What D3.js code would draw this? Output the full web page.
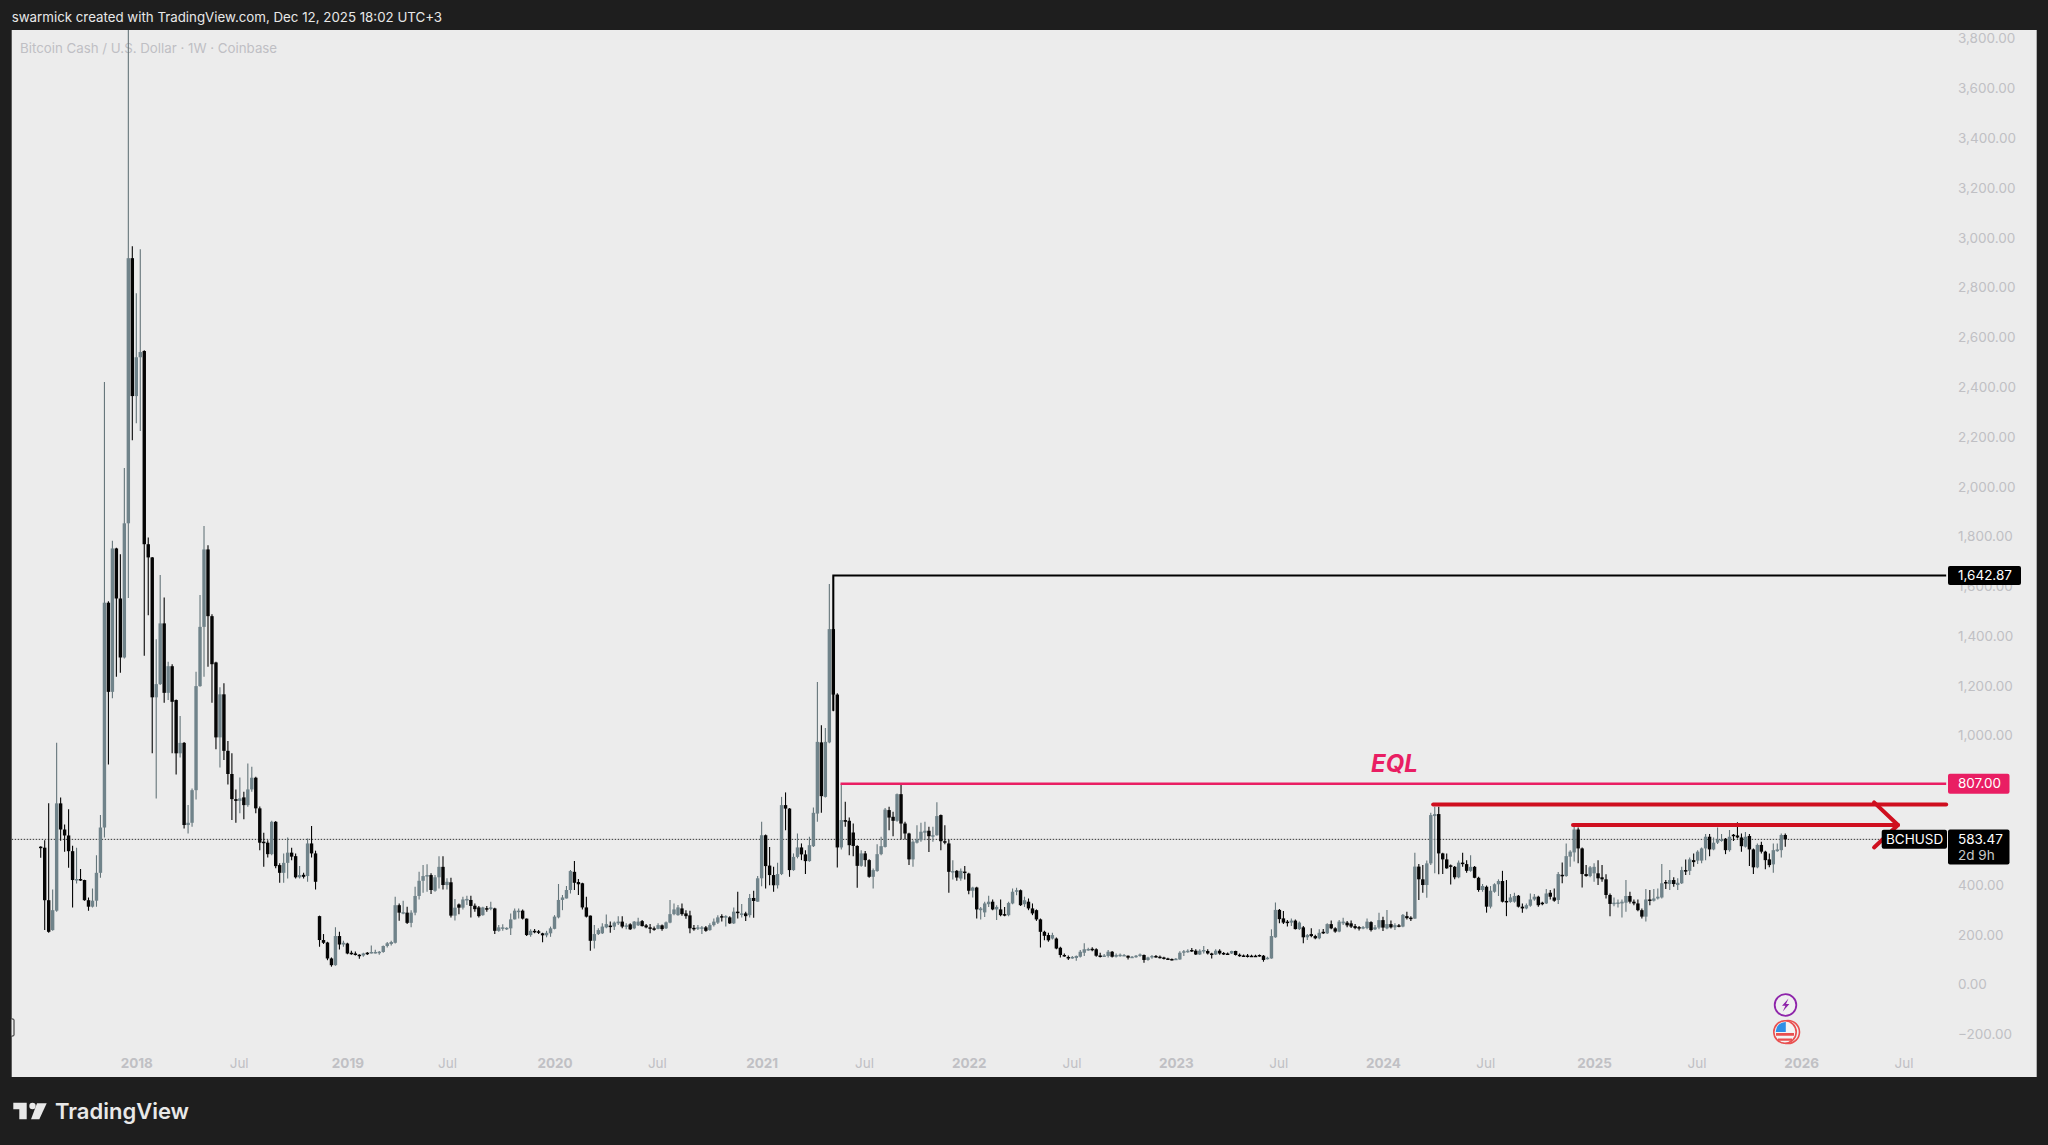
<!DOCTYPE html>
<html><head><meta charset="utf-8">
<script src="https://cdn.jsdelivr.net/npm/d3@7"></script>
<style>html,body{margin:0;padding:0;background:#1e1e1e;overflow:hidden}svg{display:block}text{font-family:Inter,Roboto,sans-serif}</style>
</head><body>
<svg id="c" width="2048" height="1145"></svg>
<script>
// weekly candles: [open, high, low, close]
const candles2017=[[554,556,510,551],[550,580,219,339],[339,728,208,212],[219,382,216,299],[297,971,293,728],[728,752,578,623],[623,643,534,599],[599,704,469,536],[536,558,310,420],[420,550,406,424],[424,464,416,420],[420,421,337,339],[339,350,297,313],[313,386,310,337],[337,520,313,449],[449,681,429,631],[631,2421,591,1534],[1534,1540,884,1176],[1176,1783,1150,1752],[1752,1755,1237,1551],[1551,1729,1253,1314],[1314,2075,1310,1853],[1853,4000,1553,2918],[2918,2966,2187,2364]];
const candles2018=[[2364,2777,2255,2520],[2520,2954,2224,2541],[2545,2548,1321,1769],[1769,1796,1484,1716],[1716,1718,929,1154],[1154,1387,748,1207],[1207,1645,1203,1451],[1451,1555,1132,1172],[1172,1297,1143,1279],[1279,1287,929,1136],[1143,1145,844,929],[929,1079,912,971],[971,975,627,641],[641,721,607,650],[650,788,634,781],[781,1257,744,1199],[1199,1565,1196,1437],[1437,1842,1237,1748],[1748,1765,1277,1480],[1480,1488,1132,1287],[1294,1297,945,993],[993,1194,872,1166],[1166,1210,902,939],[939,979,804,846],[846,929,661,745],[745,784,650,738],[738,832,688,748],[752,775,664,721],[721,888,714,784],[784,875,775,831],[831,835,688,708],[708,715,540,570],[574,610,473,570],[570,580,511,524],[524,658,520,654],[654,657,467,476],[480,487,409,449],[449,527,409,489],[489,591,426,530],[530,550,500,514],[516,527,426,431],[431,476,426,440],[441,449,426,433],[436,587,413,567],[567,637,511,527],[527,538,382,413],[275,277,152,179],[179,203,163,168],[169,172,98,105],[105,109,72,78],[78,230,76,195],[195,212,141,161]];
const candles2019=[[161,176,152,168],[165,168,122,125],[128,136,120,125],[125,133,117,124],[120,122,104,117],[117,128,112,125],[128,131,119,122],[128,157,125,131],[129,140,125,131],[129,135,120,132],[131,157,128,155],[155,171,149,166],[163,176,157,171],[168,353,165,319],[319,326,256,289],[286,337,283,291],[289,313,243,248],[248,299,230,289],[289,393,279,356],[356,453,342,417],[417,480,369,436],[436,483,373,440],[440,447,364,380],[377,440,373,431],[431,516,386,473],[473,516,382,400],[400,427,382,413],[411,429,270,277],[277,344,257,309],[322,326,283,309],[309,353,302,342],[340,357,320,344],[340,357,270,316],[317,326,293,303],[310,316,270,275],[279,313,277,310],[307,316,293,305],[306,333,299,310],[306,309,203,216],[216,239,212,230],[226,242,216,230],[224,230,219,228],[226,286,199,262],[262,306,262,297],[294,306,266,297],[297,302,262,265],[265,266,195,199],[199,222,192,216],[216,223,206,212],[214,219,203,208],[206,208,170,198],[198,216,190,208]];
const candles2020=[[206,233,192,226],[224,279,222,273],[270,404,266,340],[340,360,299,350],[346,396,346,380],[380,460,366,456],[453,496,380,409],[412,424,360,403],[407,409,302,310],[310,353,270,273],[277,278,136,176],[176,239,145,203],[203,226,199,219],[206,246,203,233],[230,282,226,243],[237,253,208,234],[233,253,219,249],[246,275,239,253],[253,275,226,233],[233,246,222,238],[242,246,219,222],[226,255,222,253],[238,269,235,253],[255,259,233,235],[238,243,226,230],[230,243,206,224],[226,233,216,222],[224,246,222,239],[238,241,216,223],[226,253,223,250],[249,340,246,283],[283,326,279,302],[279,320,277,310],[306,326,277,283],[286,299,265,275],[278,297,206,226],[228,239,216,224],[224,239,219,230],[227,235,203,230],[230,235,212,216],[219,246,216,239],[239,266,233,253],[249,279,243,270],[275,283,253,273],[271,279,233,275],[270,275,243,246],[246,310,243,293],[293,373,266,290],[282,324,270,286],[286,293,255,275],[279,364,270,348],[348,377,269,336],[333,436,333,427]];
const candles2021=[[427,654,395,600],[600,603,386,476],[478,553,399,440],[440,473,373,399],[399,489,386,444],[444,754,440,721],[721,772,620,707],[707,709,433,460],[460,527,457,513],[513,607,507,551],[551,567,500,523],[523,540,444,496],[496,594,493,560],[556,711,553,690],[687,1216,654,975],[973,1042,690,757],[754,1031,752,975],[973,1609,969,1428],[1428,1642.87,1098,1165],[1165,1170,470,551],[551,805,543,661],[661,734,634,654],[658,671,520,560],[611,647,516,557],[557,560,389,477],[477,540,473,527],[527,537,473,500],[500,504,429,433],[433,466,386,460],[456,564,453,524],[524,594,520,556],[553,709,551,703],[701,714,620,671],[674,694,596,658],[658,768,654,765],[765,807,583,647],[647,654,583,607],[607,610,480,503],[503,580,473,574],[570,640,567,583],[580,650,574,614],[610,654,580,618],[618,634,533,596],[596,634,574,600],[600,732,598,677],[681,683,540,576],[576,640,564,570],[567,583,369,453],[450,500,422,456],[457,460,417,430],[426,466,417,457],[454,476,422,450]];
const candles2022=[[446,449,363,377],[377,393,350,390],[390,393,266,302],[299,312,262,306],[290,333,272,326],[323,357,312,333],[333,342,299,302],[302,319,259,312],[302,342,275,279],[283,312,275,278],[279,333,275,328],[326,386,323,373],[373,389,359,379],[379,382,316,319],[323,353,312,339],[333,346,299,306],[306,326,279,286],[299,302,256,262],[262,266,149,212],[212,216,178,196],[199,208,172,178],[185,208,181,199],[185,189,142,145],[148,152,109,119],[119,125,112,115],[111,117,99,108],[108,115,104,111],[107,117,96,115],[112,139,109,132],[128,166,115,142],[139,148,136,143],[144,150,134,140],[142,146,112,116],[117,128,109,113],[115,123,112,117],[115,139,109,132],[132,135,109,112],[112,125,109,119],[117,125,112,120],[117,123,115,119],[116,117,101,108],[109,115,107,112],[112,119,108,116],[116,125,112,121],[119,121,88,99],[99,112,96,109],[109,119,104,115],[115,119,108,111],[112,117,105,109],[109,112,101,105],[105,108,99,103],[103,105,97,100]];
const candles2023=[[100,107,99,104],[101,134,100,128],[128,139,115,134],[132,142,128,136],[139,147,131,135],[136,142,119,121],[121,142,119,136],[135,155,125,139],[135,142,121,125],[125,128,105,123],[121,142,119,136],[136,142,120,125],[127,131,119,123],[125,129,120,123],[125,136,123,135],[135,136,117,119],[120,125,112,116],[117,121,112,116],[117,123,109,115],[116,120,112,115],[116,120,111,114],[119,121,112,115],[116,119,92,99],[103,112,101,108],[105,222,104,195],[190,330,188,300],[300,304,246,263],[266,296,243,249],[253,259,233,249],[249,266,235,257],[257,261,221,223],[223,253,219,249],[230,235,166,190],[190,203,179,199],[203,226,190,195],[195,200,182,186],[186,222,182,208],[212,223,203,206],[206,246,203,243],[243,257,222,226],[226,230,208,213],[213,259,210,253],[246,269,239,253],[249,255,230,238],[246,257,227,233],[235,243,222,227],[231,235,217,229],[229,235,222,231],[227,266,222,253],[251,254,213,219],[222,239,219,230],[229,289,222,259]];
const candles2024=[[259,273,215,229],[226,300,222,243],[243,257,225,230],[230,246,219,239],[238,243,230,235],[233,284,230,280],[275,293,262,267],[269,275,255,265],[265,530,265,474],[474,484,340,423],[423,480,369,400],[400,498,349,487],[487,690,480,681],[677,714,447,685],[685,714,443,527],[527,530,444,503],[503,527,465,467],[479,482,402,473],[473,476,423,431],[431,498,427,490],[490,530,473,484],[484,500,449,457],[457,520,453,473],[473,476,427,429],[429,433,373,380],[380,404,373,396],[393,398,289,313],[313,396,306,377],[373,407,369,403],[403,423,356,416],[416,457,330,333],[336,420,275,332],[332,364,329,350],[333,369,329,356],[357,360,310,313],[313,326,289,306],[306,326,303,319],[317,366,313,342],[342,364,337,353],[353,357,313,319],[329,333,319,324],[326,384,324,366],[369,380,342,353],[350,386,333,337],[340,452,324,444],[441,490,407,437],[436,567,433,516],[514,540,473,534],[531,637,494,623],[623,631,487,547],[547,551,390,444],[444,480,433,436],[436,476,431,471]];
const candles2025=[[447,487,413,473],[447,500,400,427],[431,480,413,423],[423,443,346,360],[360,366,275,324],[324,350,315,329],[326,342,310,330],[326,342,270,333],[329,420,293,356],[356,373,326,333],[333,342,319,326],[326,342,295,299],[299,306,266,273],[273,384,253,342],[342,380,319,337],[337,384,334,346],[346,386,342,353],[350,484,346,407],[412,420,384,408],[404,460,380,420],[420,431,393,404],[400,427,380,409],[407,473,404,460],[460,503,440,455],[457,511,440,503],[500,527,473,492],[498,540,484,534],[498,551,487,547],[547,605,500,594],[594,605,516,543],[543,591,540,570],[570,631,565,583],[581,605,574,583],[586,589,524,540],[540,621,534,594],[602,605,577,598],[599,652,587,591],[591,607,534,556],[554,613,551,594],[597,605,476,543],[543,547,444,471],[471,567,467,561],[561,574,527,534],[534,538,463,500],[503,527,471,480],[483,567,449,540],[536,567,534,543],[540,607,511,601],[601,607,554,583.47]];
const firstWeek=-24; // weeks counted from the first week of 2018
const priceTicks=[3800,3600,3400,3200,3000,2800,2600,2400,2200,2000,1800,1600,1400,1200,1000,800,600,400,200,0,-200];
const timeTickWeeks=[0,25.7,53,78,105,130.7,157,182.7,209,234.8,261,286.7,313,338.7,366,391.7,418,443.7];
const timeTickLabels=["2018","Jul","2019","Jul","2020","Jul","2021","Jul","2022","Jul","2023","Jul","2024","Jul","2025","Jul","2026","Jul"];
const lastPrice=583.47, highLevel=1642.87, eqlLevel=807, redLevelA=723, redLevelB=641;
const highStartWeek=175, eqlStartWeek=176.8, redStartA=325.6, redStartB=360.7, levelEndWeek=454.4, arrowTipWeek=442.3, arrowBackWeek=436.3;
const arrowUpper=732, arrowLower=551;

const candles=[...candles2017,...candles2018,...candles2019,...candles2020,...candles2021,...candles2022,...candles2023,...candles2024,...candles2025];
const W=2048,H=1145,P={l:11.7,r:2036.7,t:30,b:1077};
const svg=d3.select('#c');
const x=d3.scaleLinear().domain([0,414]).range([136.3,136.3+3.983*414]);
const y=d3.scaleLinear().domain([0,3800]).range([984.6,38.6]);
const UP='#70838a',UPW='#65757a',DOWN='#050505',AXIS='#c0c0c4',BG='#ececec';
const FS=13.5;

svg.append('rect').attr('width',W).attr('height',H).attr('fill','#1e1e1e');
svg.append('rect').attr('x',P.l).attr('y',P.t).attr('width',P.r-P.l).attr('height',P.b-P.t).attr('fill',BG);
svg.append('clipPath').attr('id','pane').append('rect').attr('x',P.l).attr('y',P.t).attr('width',P.r-P.l).attr('height',P.b-P.t);
const pane=svg.append('g').attr('clip-path','url(#pane)');

// header and watermark
svg.append('text').attr('x',11.7).attr('y',22.3).attr('fill','#e8e8e8').attr('font-size',13.3).attr('font-weight',400).text('swarmick created with TradingView.com, Dec 12, 2025 18:02 UTC+3');
pane.append('text').attr('x',20).attr('y',52.7).attr('fill','#bfbfc4').attr('font-size',13.3).text('Bitcoin Cash / U.S. Dollar · 1W · Coinbase');

// last price line
pane.append('line').attr('x1',P.l).attr('x2',1882).attr('y1',y(lastPrice)).attr('y2',y(lastPrice)).attr('stroke','#333').attr('stroke-width',1).attr('stroke-dasharray','1.5 1.5');

// candles
const rows=candles.map((d,k)=>({i:k+firstWeek,o:d[0],h:d[1],l:d[2],c:d[3]}));
const g=pane.append('g');
g.selectAll('line.w').data(rows).join('line').attr('class','w')
 .attr('x1',d=>x(d.i)).attr('x2',d=>x(d.i)).attr('y1',d=>y(d.h)).attr('y2',d=>y(d.l))
 .attr('stroke',d=>d.c>=d.o?UPW:DOWN).attr('stroke-width',1.1);
g.selectAll('rect.b').data(rows).join('rect').attr('class','b')
 .attr('x',d=>x(d.i)-1.7).attr('width',3.4)
 .attr('y',d=>y(Math.max(d.o,d.c)))
 .attr('height',d=>Math.max(1.5,Math.abs(y(d.o)-y(d.c))))
 .attr('fill',d=>d.c>=d.o?UP:DOWN);

// drawn levels
pane.append('path').attr('fill','none').attr('stroke','#000').attr('stroke-width',2)
 .attr('d',d3.line()([[x(highStartWeek),y(1100)],[x(highStartWeek),y(highLevel)],[x(levelEndWeek),y(highLevel)]]));
pane.append('line').attr('x1',x(eqlStartWeek)).attr('x2',x(levelEndWeek)).attr('y1',y(eqlLevel)).attr('y2',y(eqlLevel)).attr('stroke','#e91e63').attr('stroke-width',2.6);
pane.append('text').attr('x',1371).attr('y',772).attr('fill','#e91e63').attr('font-size',24).attr('font-weight',700).attr('font-style','italic').text('EQL');
const red='#cf0f1f';
[[redStartA,redLevelA,levelEndWeek],[redStartB,redLevelB,arrowTipWeek]].forEach(([a,v,b])=>{
 pane.append('line').attr('x1',x(a)).attr('x2',x(b)).attr('y1',y(v)).attr('y2',y(v)).attr('stroke',red).attr('stroke-width',4).attr('stroke-linecap','round');
});
pane.append('path').attr('fill','none').attr('stroke',red).attr('stroke-width',4).attr('stroke-linecap','round').attr('stroke-linejoin','round')
 .attr('d',d3.line()([[x(arrowBackWeek),y(arrowUpper)],[x(arrowTipWeek),y(redLevelB)],[x(arrowBackWeek),y(arrowLower)]]));

// axes
const yAxis=svg.append('g').attr('transform','translate(1947,0)')
 .call(d3.axisRight(y).tickValues(priceTicks).tickSize(0).tickPadding(11).tickFormat(d=>d<0?'\u2212'+d3.format(',.2f')(-d):d3.format(',.2f')(d)));
yAxis.select('.domain').remove();
yAxis.selectAll('text').attr('fill',AXIS).attr('font-size',FS).style('font-family','Inter,Roboto,sans-serif');
const xAxis=svg.append('g').attr('transform','translate(0,1058)')
 .call(d3.axisBottom(x).tickValues(timeTickWeeks).tickSize(0).tickPadding(0).tickFormat((d,k)=>timeTickLabels[k]));
xAxis.select('.domain').remove();
xAxis.selectAll('text').attr('fill',AXIS).attr('font-size',FS).style('font-family','Inter,Roboto,sans-serif')
 .attr('font-weight',(d,k)=>/^\d/.test(timeTickLabels[k])?700:400);

// price tags
function tag(x0,x1,yc,h,fill){
 const t=svg.append('g');
 t.append('rect').attr('x',x0).attr('width',x1-x0).attr('y',yc-h/2).attr('height',h).attr('rx',2).attr('fill',fill);
 return t;
}
function label(xp,yp,txt,col){svg.append('text').attr('x',xp).attr('y',yp).attr('fill',col||'#fff').attr('font-size',FS).text(txt);}
tag(1948,2021,y(highLevel),19,'#000'); label(1958,y(highLevel)+4.8,d3.format(',.2f')(highLevel));
tag(1948,2009.5,y(eqlLevel),20,'#e91e63'); label(1958,y(eqlLevel)+4.8,d3.format(',.2f')(eqlLevel));
tag(1881.7,1947,839.3,19,'#000'); label(1886,844.1,'BCHUSD');
tag(1948,2009.5,847,35,'#000'); label(1958,844.1,d3.format(',.2f')(lastPrice)); label(1958,859.5,'2d 9h','#c8c8c8');

// event icons
const ev=svg.append('g');
ev.append('circle').attr('cx',1785.5).attr('cy',1005).attr('r',10.8).attr('fill','#f0f0f0').attr('stroke','#8e24aa').attr('stroke-width',1.8);
ev.append('path').attr('d','M1788.5 998.5l-6.5 7.2h3.4l-2.6 5.8 6.6-7.4h-3.4z').attr('fill','#8e24aa');
ev.append('circle').attr('cx',1788).attr('cy',1032).attr('r',11.5).attr('fill','#f0f0f0').attr('stroke','#e94f4f').attr('stroke-width',1.6);
ev.append('circle').attr('cx',1785).attr('cy',1032).attr('r',11.2).attr('fill','#f4f4f4').attr('stroke','#e94f4f').attr('stroke-width',1.6);
ev.append('path').attr('d','M1776 1033h18v2.8h-18zM1778 1038.5h14v2.2h-14z').attr('fill','#e94f4f');
ev.append('path').attr('d','M1775.8 1031a9.6 9.6 0 0 1 9.6 -9h0.4v10h-10z').attr('fill','#2f8fe6');

// left edge marker
svg.append('path').attr('d','M11.7 1019h1.3q1 0 1 1v15q0 1-1 1h-1.3').attr('fill','#ececec').attr('stroke','#222').attr('stroke-width',1);

// brand
const brand=svg.append('g').attr('fill','#e8e8e8');
brand.append('path').attr('d','M13.3 1102.7H26.7V1119.3H19.3V1109.3H13.3Z');
brand.append('circle').attr('cx',32.5).attr('cy',1106).attr('r',3.2);
brand.append('path').attr('d','M37 1103.3H46.7L39.3 1119.3H31Z');
brand.append('text').attr('x',55).attr('y',1118.5).attr('font-size',22).attr('font-weight',600).attr('fill','#e8e8e8').text('TradingView');
</script>
</body></html>
